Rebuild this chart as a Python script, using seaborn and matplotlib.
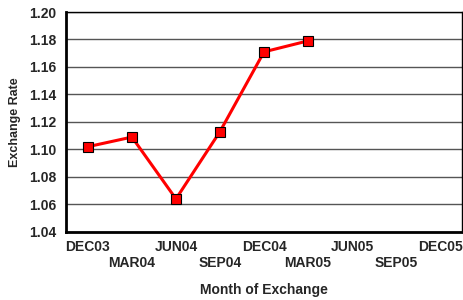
import matplotlib
matplotlib.use("Agg")
import matplotlib.pyplot as plt
import seaborn as sns
import pandas as pd

months = ["DEC03", "MAR04", "JUN04", "SEP04", "DEC04", "MAR05", "JUN05", "SEP05", "DEC05"]
obs_months = ["DEC03", "MAR04", "JUN04", "SEP04", "DEC04", "MAR05"]
rates = [1.102, 1.109, 1.064, 1.113, 1.171, 1.179]

sns.set_theme(style="white")
plt.rcParams["font.family"] = ["Liberation Sans", "DejaVu Sans"]
plt.rcParams["font.weight"] = "bold"

df = pd.DataFrame({"pos": [months.index(m) for m in obs_months], "rate": rates})

fig = plt.figure(figsize=(4.64, 3.0), dpi=100)
ax = fig.add_axes([0.142, 0.227, 0.854, 0.733])

sns.lineplot(data=df, x="pos", y="rate", ax=ax, color="#FF0000", linewidth=2.2,
             marker="s", markersize=6.5, markerfacecolor="#FF0000",
             markeredgecolor="black", markeredgewidth=0.8, zorder=5)

ax.set_xlim(-0.5, len(months) - 0.5)
ax.set_ylim(1.04, 1.20)
ax.set_yticks([1.04 + 0.02 * i for i in range(9)])
ax.set_yticklabels([f"{1.04 + 0.02 * i:.2f}" for i in range(9)], fontsize=10, fontweight="bold")
ax.set_xticks(range(len(months)))
ax.set_xticklabels([m if i % 2 == 0 else "\n" + m for i, m in enumerate(months)],
                   fontsize=10, fontweight="bold", linespacing=1.2)
ax.tick_params(axis="y", length=0, pad=7)
ax.tick_params(axis="x", length=0, pad=6)

ax.yaxis.grid(True, color="#555555", linewidth=1.0)
ax.set_axisbelow(True)

for side in ["left", "bottom"]:
    ax.spines[side].set_linewidth(2.0)
    ax.spines[side].set_color("black")
for side in ["top", "right"]:
    ax.spines[side].set_linewidth(1.0)
    ax.spines[side].set_color("black")

ax.set_xlabel("Month of Exchange", fontsize=10, fontweight="bold", labelpad=9)
ax.set_ylabel("Exchange Rate", fontsize=9, fontweight="bold", labelpad=6)

fig.savefig("out.png", dpi=100)
